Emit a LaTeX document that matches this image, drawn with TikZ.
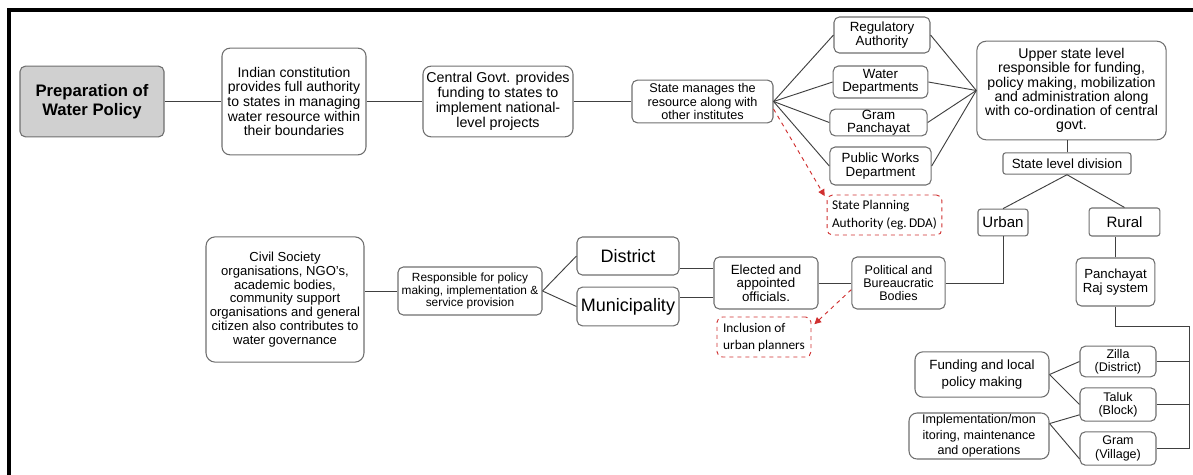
\documentclass[tikz,border=0pt]{standalone}
\usepackage{fontspec}
\setmainfont{Liberation Sans}
\newfontfamily\calib{Carlito}
\usetikzlibrary{arrows.meta}
\definecolor{boxgray}{HTML}{6E6E6E}
\definecolor{linegray}{HTML}{404040}
\definecolor{fillgray}{HTML}{D0D0D0}
\definecolor{planred}{HTML}{D03030}
\newcommand{\fs}[2]{\fontsize{#1}{#2}\selectfont}
\begin{document}
\begin{tikzpicture}[x=0.75pt,y=-0.75pt,
  box/.style={draw=boxgray, line width=0.8pt, rounded corners=4pt, align=center, inner sep=1pt},
  redbox/.style={draw=planred, dashed, line width=0.7pt, rounded corners=4pt, align=left, inner sep=1pt},
  link/.style={draw=linegray, line width=0.7pt},
  redlink/.style={draw=planred, dashed, line width=0.7pt, -{Triangle[length=5pt,width=5pt]}, shorten >=3pt}]
\useasboundingbox (0,0) rectangle (1193,475);
\draw[line width=2.4pt] (9,480) -- (9,10) -- (1200,10);
\node[box, fill=fillgray, minimum width=108pt, minimum height=53pt, font=\bfseries\fs{12.5}{14.5}] (prep) at (92,101.5) {Preparation of\\Water Policy};
\node[box, rounded corners=6pt, minimum width=108pt, minimum height=80pt, font=\fs{10.5}{10.9}] (indian) at (294,101.5) {Indian constitution\\provides full authority\\to states in managing\\water resource within\\their boundaries};
\node[box, rounded corners=6pt, minimum width=112.5pt, minimum height=53pt, font=\fs{10.7}{11.2}] (central) at (498,101.5) {Central Govt. provides\\funding to states to\\implement national-\\level projects};
\node[box, minimum width=105.75pt, minimum height=32pt, font=\fs{9.5}{10.3}] (state) at (702.5,101.5) {State manages the\\resource along with\\other institutes};
\node[box, minimum width=72pt, minimum height=27pt, font=\fs{10}{10}] (reg) at (882,35) {Regulatory\\Authority};
\node[box, minimum width=71pt, minimum height=24pt, font=\fs{10}{10}] (water) at (880.5,82) {Water\\Departments};
\node[box, minimum width=73pt, minimum height=20pt, inner sep=0pt, font=\fs{10}{10}] (gram) at (878.5,122.5) {Gram\\Panchayat};
\node[box, minimum width=76pt, minimum height=28.5pt, font=\fs{10}{10}] (pwd) at (880.5,166) {Public Works\\Department};
\node[box, rounded corners=7pt, minimum width=142pt, minimum height=74pt, font=\fs{10.6}{10.65}] (upper) at (1071.5,90.5) {Upper state level\\responsible for funding,\\policy making, mobilization\\and administration along\\with co-ordination of central\\govt.};
\node[box, rounded corners=2pt, minimum width=96pt, minimum height=16pt, font=\fs{10}{10}] (sld) at (1067,163.5) {State level division};
\node[box, rounded corners=2pt, minimum width=37.5pt, minimum height=20pt, font=\fs{11.3}{11.3}] (urban) at (1003,222.5) {Urban};
\node[box, rounded corners=2pt, minimum width=53pt, minimum height=21pt, font=\fs{11.3}{11.3}] (rural) at (1124.5,222) {Rural};
\node[redbox, minimum width=86pt, minimum height=30pt, font=\calib\fs{10}{13.5}] (spa) at (884.5,215) {State Planning\\Authority (eg.\,DDA)};
\node[box, rounded corners=7pt, minimum width=118.5pt, minimum height=94pt, font=\fs{9.8}{10.3}] (civil) at (285,299.5) {Civil Society\\organisations, NGO's,\\academic bodies,\\community support\\organisations and general\\citizen also contributes to\\water governance};
\node[box, minimum width=108pt, minimum height=36pt, font=\fs{8.9}{9.2}] (resp) at (470,291) {Responsible for policy\\making, implementation \&\\service provision};
\node[box, minimum width=76.5pt, minimum height=28.5pt, font=\fs{13.5}{13.5}] (district) at (628,256) {District};
\node[box, minimum width=76.5pt, minimum height=29pt, font=\fs{13.5}{13.5}] (muni) at (628,306.5) {Municipality};
\node[box, minimum width=78pt, minimum height=39pt, font=\fs{10}{10.3}] (elected) at (766,283) {Elected and\\appointed\\officials.};
\node[box, minimum width=70pt, minimum height=39pt, font=\fs{9.4}{9.4}] (pol) at (898.5,283) {Political and\\Bureaucratic\\Bodies};
\node[redbox, minimum width=70.5pt, minimum height=30pt, font=\calib\fs{10}{12.75}] (incl) at (764,337) {Inclusion of\\urban planners};
\node[box, minimum width=59pt, minimum height=36pt, font=\fs{9.9}{11}] (pan) at (1115.5,282) {Panchayat\\Raj system};
\node[box, minimum width=57pt, minimum height=23pt, font=\fs{9.4}{10}] (zilla) at (1118,361.5) {Zilla\\(District)};
\node[box, minimum width=57pt, minimum height=25pt, font=\fs{9.4}{10}] (taluk) at (1118,404.5) {Taluk\\(Block)};
\node[box, minimum width=57pt, minimum height=25pt, font=\fs{9.4}{10}] (gramv) at (1118,448.5) {Gram\\(Village)};
\node[box, rounded corners=6pt, minimum width=100.5pt, minimum height=34pt, font=\fs{10}{13}] (fund) at (982,374.5) {Funding and local\\policy making};
\node[box, rounded corners=6pt, minimum width=105pt, minimum height=34.5pt, font=\fs{9.4}{11.5}] (impl) at (979,436) {Implementation/mon\\itoring, maintenance\\and operations};
\coordinate (bus) at (1189,326);
\draw[link] (prep) -- (indian);
\draw[link] (indian) -- (central);
\draw[link] (central) -- (state);
\draw[link] (state.east) -- (reg.west);
\draw[link] (state.east) -- (water.west);
\draw[link] (state.east) -- (gram.west);
\draw[link] (state.east) -- (pwd.west);
\draw[link] (reg.east) -- (upper.west);
\draw[link] (water.east) -- (upper.west);
\draw[link] (gram.east) -- (upper.west);
\draw[link] (pwd.east) -- (upper.west);
\draw[link] (sld.north) -- (sld.north |- upper.south);
\draw[link] (sld.south) -- (urban.north);
\draw[link] (sld.south) -- (rural.north);
\draw[redlink] (state.-6) -- (spa.165);
\draw[link] (resp.west) -- (resp.west -| civil.east);
\draw[link] (resp.east) -- (district.west);
\draw[link] (resp.east) -- (muni.west);
\draw[link] (elected.165) -- (elected.165 -| district.east);
\draw[link] (elected.195) -- (elected.195 -| muni.east);
\draw[link] (elected.east) -- (pol.west);
\draw[redlink] (pol.188) -- (incl.12);
\draw[link] (pol.east) -| (urban.south);
\draw[link] (pan.north) -- (pan.north |- rural.south);
\draw[link] (pan.south) |- (bus) |- (gramv.east);
\draw[link] (zilla.east) -- (zilla.east -| bus);
\draw[link] (taluk.east) -- (taluk.east -| bus);
\draw[link] (fund.east) -- (zilla.west);
\draw[link] (fund.east) -- (taluk.west);
\draw[link] (impl.10) -- (taluk.195);
\draw[link] (impl.10) -- (gramv.195);
\end{tikzpicture}
\end{document}
